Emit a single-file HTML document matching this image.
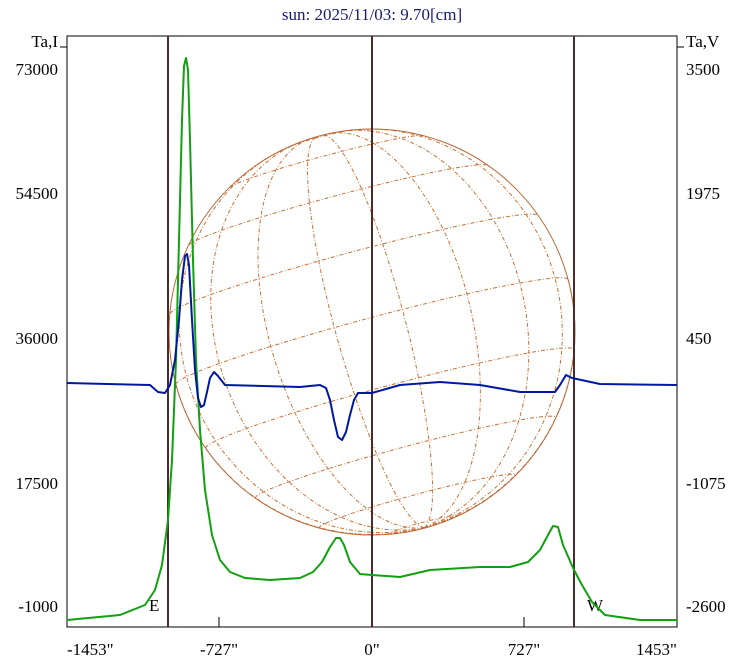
<!DOCTYPE html>
<html><head><meta charset="utf-8"><style>
body{margin:0;background:#fff;width:738px;height:662px;overflow:hidden}
svg text{font-family:"Liberation Serif",serif;font-size:17px;fill:#000}
</style></head><body>
<svg id="s" width="738" height="662" xmlns="http://www.w3.org/2000/svg">
<text x="372" y="20" text-anchor="middle" style="fill:#1a1a6e">sun: 2025/11/03: 9.70[cm]</text>
<g id="globe"></g>
<rect x="67" y="36" width="610" height="591" fill="none" stroke="#000" stroke-width="1"/>
<line x1="168" y1="36" x2="168" y2="627" stroke="#4a2a2a" stroke-width="2"/>
<line x1="372" y1="36" x2="372" y2="627" stroke="#4a2a2a" stroke-width="2"/>
<line x1="574" y1="36" x2="574" y2="627" stroke="#4a2a2a" stroke-width="2"/>
<g stroke="#000">
<line x1="219" y1="617" x2="219" y2="627"/><line x1="524" y1="617" x2="524" y2="627"/>
<line x1="60" y1="47" x2="67" y2="47"/><line x1="677" y1="47" x2="684" y2="47"/>
</g>
<text x="58" y="47" text-anchor="end">Ta,I</text>
<text x="58" y="75" text-anchor="end">73000</text>
<text x="58" y="199" text-anchor="end">54500</text>
<text x="58" y="344" text-anchor="end">36000</text>
<text x="58" y="489" text-anchor="end">17500</text>
<text x="58" y="612" text-anchor="end">-1000</text>
<text x="686" y="47">Ta,V</text>
<text x="686" y="75">3500</text>
<text x="686" y="199">1975</text>
<text x="686" y="344">450</text>
<text x="686" y="489">-1075</text>
<text x="686" y="612">-2600</text>
<text x="149" y="611">E</text>
<text x="587" y="611">W</text>
<text x="67" y="655">-1453"</text>
<text x="219" y="655" text-anchor="middle">-727"</text>
<text x="372" y="655" text-anchor="middle">0"</text>
<text x="524" y="655" text-anchor="middle">727"</text>
<text x="677" y="655" text-anchor="end">1453"</text>
<polyline fill="none" stroke="#10a010" stroke-width="2" stroke-linejoin="round" points="67,620 120,615 145,605 155,590 162,565 168,520 172,460 176,360 179,240 182,120 184,66 186,58 188,70 190,140 193,260 196,360 200,430 205,490 212,535 220,560 230,572 245,578 270,580 300,578 313,572 322,562 330,547 336,538 340,538 344,545 350,562 360,574 372,575 400,577 430,570 480,567 510,567 528,562 540,550 548,535 553,526 558,527 563,545 574,570 582,585 592,602 605,615 640,620 677,620"/>
<polyline fill="none" stroke="#0018a0" stroke-width="2" stroke-linejoin="round" points="67,383 150,385 158,392 165,393 170,385 175,360 179,320 182,280 185,256 187,254 189,265 192,320 195,370 198,398 201,407 204,405 207,392 210,378 214,372 218,376 225,385 300,387 320,385 326,388 330,400 334,420 338,437 342,440 346,432 350,415 354,400 358,393 372,393 400,385 440,382 480,385 520,392 555,392 560,385 566,375 572,378 600,384 677,385"/>
</svg>
<script>
(function(){
var g=document.getElementById('globe'),cx=372,cy=332,R=203;
var B=-4*Math.PI/180,P=15*Math.PI/180,NS='http://www.w3.org/2000/svg';
function proj(lat,lon){var x=Math.cos(lat)*Math.sin(lon),y=Math.sin(lat),z=Math.cos(lat)*Math.cos(lon);
var y2=y*Math.cos(B)-z*Math.sin(B),z2=y*Math.sin(B)+z*Math.cos(B);
var xr=x*Math.cos(P)-y2*Math.sin(P),yr=x*Math.sin(P)+y2*Math.cos(P);return [cx+R*xr,cy-R*yr,z2];}
function path(pts,col,dash){var d='',pen=false;pts.forEach(function(p){if(p[2]>=0){d+=(pen?'L':'M')+p[0].toFixed(1)+','+p[1].toFixed(1);pen=true;}else pen=false;});
var e=document.createElementNS(NS,'path');e.setAttribute('d',d);e.setAttribute('fill','none');e.setAttribute('stroke',col);e.setAttribute('stroke-dasharray',dash);g.appendChild(e);}
var d2r=Math.PI/180;
for(var la=-80;la<=80;la+=20){var pts=[];for(var lo=-180;lo<=180;lo+=3)pts.push(proj(la*d2r,lo*d2r));path(pts,'#c87038','4,2,1,2');}
for(var lo=-170;lo<180;lo+=20){var pts=[];for(var la=-90;la<=90;la+=3)pts.push(proj(la*d2r,lo*d2r));path(pts,'#c87038','4,2,1,2');}
var c=document.createElementNS(NS,'circle');c.setAttribute('cx',cx);c.setAttribute('cy',cy);c.setAttribute('r',R);c.setAttribute('fill','none');c.setAttribute('stroke','#b86a38');g.appendChild(c);
})();
</script>
</body></html>
